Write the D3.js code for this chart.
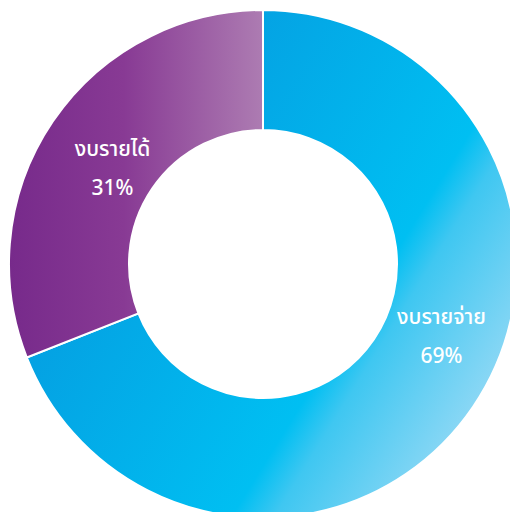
<!DOCTYPE html>
<html>
<head>
<meta charset="utf-8">
<script src="https://cdn.jsdelivr.net/npm/d3@7"></script>
<style>
  html, body { margin: 0; padding: 0; background: #fff; }
  svg { display: block; }
</style>
</head>
<body>
<svg width="510" height="512" viewBox="0 0 510 512"></svg>
<script>
// data
const categories = ['งบรายจ่าย', 'งบรายได้']
const values = [69, 31]
const valueLabels = ['69%', '31%']

const svg = d3.select('svg')
const cx = 263
const cy = 264
const outerR = 254
const innerR = 134

const defs = svg.append('defs')

// gradients are in the coordinates of the centred group
// blue slice: diagonal gradient, dark blue -> cyan -> pale blue
const blueGrad = defs.append('linearGradient')
  .attr('id', 'gBlue')
  .attr('gradientUnits', 'userSpaceOnUse')
  .attr('x1', 187 - cx).attr('y1', 117 - cy)
  .attr('x2', 578 - cx).attr('y2', 360 - cy)
blueGrad.append('stop').attr('offset', 0).attr('stop-color', '#04a2e3')
blueGrad.append('stop').attr('offset', 0.54).attr('stop-color', '#00bff2')
blueGrad.append('stop').attr('offset', 0.62).attr('stop-color', '#3fc7f1')
blueGrad.append('stop').attr('offset', 1).attr('stop-color', '#b4e0f7')

// purple slice: horizontal gradient
const purpleGrad = defs.append('linearGradient')
  .attr('id', 'gPurple')
  .attr('gradientUnits', 'userSpaceOnUse')
  .attr('x1', 10 - cx).attr('y1', 0)
  .attr('x2', 0).attr('y2', 0)
purpleGrad.append('stop').attr('offset', 0).attr('stop-color', '#772a8b')
purpleGrad.append('stop').attr('offset', 0.45).attr('stop-color', '#883a94')
purpleGrad.append('stop').attr('offset', 1).attr('stop-color', '#ad7cb2')

const fills = ['url(#gBlue)', 'url(#gPurple)']

const pie = d3.pie().sort(null).value(d => d)
const arcs = pie(values)

const arc = d3.arc().innerRadius(innerR).outerRadius(outerR)

const g = svg.append('g')
  .attr('transform', `translate(${cx},${cy})`)

g.selectAll('path.slice')
  .data(arcs)
  .enter().append('path')
  .attr('class', 'slice')
  .attr('d', arc)
  .attr('fill', (d, i) => fills[i])
  .attr('stroke', '#fff')
  .attr('stroke-width', 2)

// labels sit a little off the centroid, like in the source
const labelShift = [[18, -36], [10, 14]]

const labels = g.selectAll('g.label')
  .data(arcs)
  .enter().append('g')
  .attr('class', 'label')
  .attr('transform', (d, i) => {
    const [x, y] = arc.centroid(d)
    return `translate(${x + labelShift[i][0]},${y + labelShift[i][1]})`
  })

labels.append('text')
  .attr('text-anchor', 'middle')
  .attr('y', -13)
  .attr('fill', '#fff')
  .style('font-family', '"Noto Sans Thai", "Noto Sans", sans-serif')
  .style('font-size', '21px')
  .style('font-weight', 500)
  .text((d, i) => categories[i])

labels.append('text')
  .attr('text-anchor', 'middle')
  .attr('y', 26)
  .attr('fill', '#fff')
  .style('font-family', '"Noto Sans", "Open Sans", sans-serif')
  .style('font-size', '21px')
  .style('font-weight', 500)
  .text((d, i) => valueLabels[i])
</script>
</body>
</html>
